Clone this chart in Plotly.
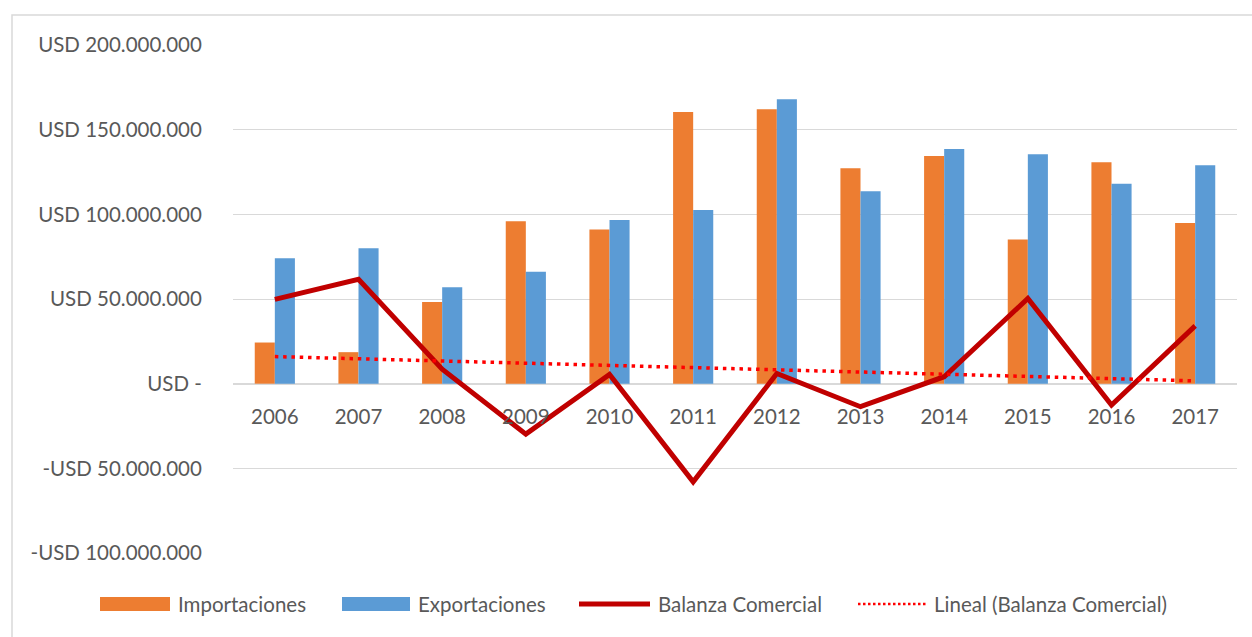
import numpy as np
import plotly.graph_objects as go

years = ["2006", "2007", "2008", "2009", "2010", "2011",
         "2012", "2013", "2014", "2015", "2016", "2017"]
importaciones = [24.3, 18.6, 48.2, 95.9, 91.1, 160.5,
                 162.0, 127.2, 134.5, 85.2, 130.7, 94.9]
exportaciones = [74.0, 79.9, 56.9, 66.1, 96.6, 102.5,
                 168.0, 113.6, 138.6, 135.5, 118.1, 129.0]
balanza = [49.8, 61.6, 8.6, -29.8, 5.5, -58.0,
           6.0, -13.6, 4.1, 50.3, -12.6, 34.1]

tick_vals = [200, 150, 100, 50, 0, -50, -100]
tick_text = ["USD 200.000.000", "USD 150.000.000", "USD 100.000.000",
             "USD 50.000.000", "USD -", "-USD 50.000.000", "-USD 100.000.000"]

M = 1e6
imp = np.array(importaciones) * M
exp_ = np.array(exportaciones) * M
bal = np.array(balanza) * M

# linear trend of the balance, as Excel does it
xi = np.arange(len(years))
k, b0 = np.polyfit(xi, bal, 1)
trend = k * xi + b0

ORANGE = "#ED7D31"
BLUE = "#5B9BD5"
DARKRED = "#C00000"
RED = "#FF0000"
GREY = "#595959"
FONT = "Lato"

W, H = 1252, 637
L, R, T, B = 233, 15, 45, 84
PW, PH = W - L - R, H - T - B


def px(x):
    return (x - L) / PW


def py(y):
    return 1 - (y - T) / PH


fig = go.Figure()
fig.add_trace(go.Bar(x=years, y=imp, name="Importaciones", marker=dict(color=ORANGE, line=dict(width=0))))
fig.add_trace(go.Bar(x=years, y=exp_, name="Exportaciones", marker=dict(color=BLUE, line=dict(width=0))))
fig.add_trace(go.Scatter(x=years, y=bal, name="Balanza Comercial", mode="lines",
                         line=dict(color=DARKRED, width=5)))
fig.add_trace(go.Scatter(x=years, y=trend, name="Lineal (Balanza Comercial)", mode="lines",
                         line=dict(color=RED, width=3.5, dash="3.5px,4.8px")))

# chart border (top and left only visible in the frame)
fig.add_shape(type="rect", xref="paper", yref="paper",
              x0=px(12), x1=px(1262), y0=py(650), y1=py(15),
              line=dict(color="#D9D9D9", width=1.5), layer="below")

# hand-made legend to match the Excel swatch sizes
legend = [
    ("rect", ORANGE, 100, 170, "Importaciones", 176),
    ("rect", BLUE, 342, 410, "Exportaciones", 416),
    ("line", DARKRED, 579, 650, "Balanza Comercial", 656),
    ("dot", RED, 858, 928, "Lineal (Balanza Comercial)", 932),
]
ly = 604
for kind, col, x0, x1, label, tx in legend:
    if kind == "rect":
        fig.add_shape(type="rect", xref="paper", yref="paper",
                      x0=px(x0), x1=px(x1), y0=py(ly + 7), y1=py(ly - 7),
                      fillcolor=col, line=dict(width=0))
    elif kind == "line":
        fig.add_shape(type="line", xref="paper", yref="paper",
                      x0=px(x0), x1=px(x1), y0=py(ly), y1=py(ly),
                      line=dict(color=col, width=5))
    else:
        fig.add_shape(type="line", xref="paper", yref="paper",
                      x0=px(x0), x1=px(x1), y0=py(ly), y1=py(ly),
                      line=dict(color=col, width=2.5, dash="2.5px,2.5px"))
    fig.add_annotation(x=px(tx), y=py(ly), xref="paper", yref="paper",
                       text=label, showarrow=False, xanchor="left", yanchor="middle",
                       font=dict(family=FONT, size=20.5, color=GREY))

fig.update_layout(
    width=W, height=H,
    margin=dict(l=L, r=R, t=T, b=B),
    barmode="group", bargap=0.52, bargroupgap=0,
    showlegend=False,
    paper_bgcolor="white", plot_bgcolor="white",
    font=dict(family=FONT, size=20.5, color=GREY),
    xaxis=dict(
        type="category", anchor="free", position=1 / 3,
        showgrid=False, zeroline=False, showline=False,
        ticks="outside", ticklen=15, tickcolor="rgba(0,0,0,0)",
        tickfont=dict(family=FONT, size=20.5, color=GREY),
    ),
    yaxis=dict(
        range=[-100 * M, 200 * M],
        tickvals=[v * M for v in tick_vals], ticktext=tick_text,
        showgrid=True, gridcolor="#D9D9D9", gridwidth=1,
        zeroline=True, zerolinecolor="#D9D9D9", zerolinewidth=1.5,
        ticks="outside", ticklen=26, tickcolor="rgba(0,0,0,0)",
        tickfont=dict(family=FONT, size=20.5, color=GREY),
    ),
)

fig.write_html("out.html", config={"displayModeBar": False},
               post_script="document.body.style.margin='0';")
